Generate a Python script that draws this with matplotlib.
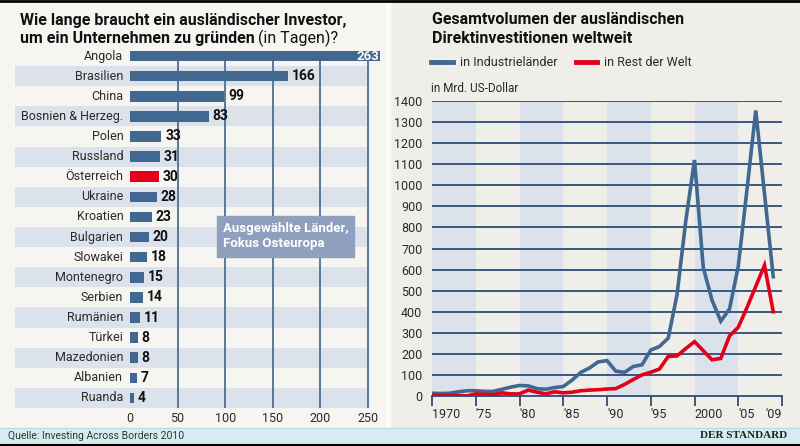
import matplotlib
matplotlib.use("Agg")
import matplotlib.pyplot as plt
from matplotlib.patches import Rectangle
from matplotlib.lines import Line2D
import numpy as np

plt.rcParams['font.family'] = ['Liberation Sans Narrow', 'Roboto', 'DejaVu Sans']

# left chart: days to start a company
countries = ['Angola', 'Brasilien', 'China', 'Bosnien & Herzeg.', 'Polen', 'Russland',
             'Österreich', 'Ukraine', 'Kroatien', 'Bulgarien', 'Slowakei', 'Montenegro',
             'Serbien', 'Rumänien', 'Türkei', 'Mazedonien', 'Albanien', 'Ruanda']
days = [263, 166, 99, 83, 33, 31, 30, 28, 23, 20, 18, 15, 14, 11, 8, 8, 7, 4]
highlight = 'Österreich'

# right chart: FDI inflows, bn USD
years = list(range(1970, 2010))
industrie = [13, 12, 13, 20, 25, 25, 22, 22, 32, 42, 50, 48, 35, 32, 40, 45, 75, 112, 133,
             162, 168, 118, 112, 140, 148, 218, 235, 275, 480, 830, 1120, 610, 455, 355,
             413, 615, 980, 1355, 960, 566]
rest = [3, 3, 3, 3, 0, 10, 8, 6, 15, 10, 10, 28, 18, 10, 20, 15, 18, 25, 28, 30, 33, 35,
        55, 78, 100, 113, 128, 188, 190, 225, 258, 215, 172, 178, 285, 326, 420, 520, 620, 400]
x_ticks = [1970, 1975, 1980, 1985, 1990, 1995, 2000, 2005, 2010]
x_labels = ['1970', "'75", "'80", "'85", "'90", "'95", '2000', "'05", "'09"]
bands = [(1970, 1975), (1980, 1985), (1990, 1995), (2000, 2005)]

W, H = 800, 446
BLUE = '#416891'
RED = '#e2001a'
STRIPE = '#dce2eb'
NAVY = '#2b4c78'
TXT = '#2a2a2a'

fig = plt.figure(figsize=(8, 4.46), dpi=100)
fig.patch.set_facecolor('#efeee9')


def rect(x0, y0, x1, y1, **kw):
    fig.patches.append(Rectangle((x0 / W, 1 - y1 / H), (x1 - x0) / W, (y1 - y0) / H,
                                 transform=fig.transFigure, **kw))


def figline(x0, x1, y0, y1, **kw):
    fig.lines.append(Line2D([x0 / W, x1 / W], [1 - y0 / H, 1 - y1 / H],
                            transform=fig.transFigure, **kw))


# backgrounds
rect(0, 0, 386, 428, color='#f6f5f2', zorder=-5)
rect(386, 0, 390, 428, color='#fbfbf9', zorder=-5)
rect(0, 428, 800, 444, color='#d5edf0', zorder=-5)
figline(0, 800, 1, 1, color='black', lw=2)
figline(0, 800, 444.5, 444.5, color='black', lw=1.5)
figline(0, 800, 428, 428, color='#b9dde2', lw=0.8)

# ---------- left bar chart ----------
axL = fig.add_axes([15 / W, 1 - 408 / H, 375 / W, 362 / H])
axL.set_facecolor('none')
n = len(countries)
ypos = np.arange(n)
axL.set_xlim(-120.8, 273.1)
axL.set_ylim(n - 0.5, -0.5)
for i in ypos:
    if i % 2 == 1:
        axL.barh(i, 249 + 120.8, left=-120.8, height=1.0, color=STRIPE, zorder=0)
axL.vlines([50, 100, 150, 200, 250], 0, n - 0.5, color='#4a6f96', lw=1.3, zorder=1)
colors = [RED if c == highlight else BLUE for c in countries]
axL.barh(ypos, days, height=0.52, color=colors, zorder=2)
for i, v in enumerate(days):
    if v > 250:
        axL.text(v - 1, i, str(v), ha='right', va='center', fontsize=9.5,
                 fontweight='bold', color='white', zorder=3)
    else:
        axL.text(v + 4, i, str(v), ha='left', va='center', fontsize=10,
                 fontweight='bold', color='#111111', zorder=3)
for i, c in enumerate(countries):
    axL.text(-7, i, c, ha='right', va='center', fontsize=9, color=TXT, zorder=3)
axL.set_yticks([])
axL.set_xticks([0, 50, 100, 150, 200, 250])
axL.tick_params(axis='x', length=0, pad=3, labelsize=9, labelcolor=TXT)
for s in axL.spines.values():
    s.set_visible(False)

rect(217, 216, 354, 257, color='#8ea0bd', zorder=2)
fig.text(223 / W, 1 - 236 / H, 'Ausgewählte Länder,\nFokus Osteuropa', color='white',
         fontsize=9.5, fontweight='bold', va='center', ha='left', linespacing=1.15, zorder=3)

# left title
fig.text(20 / W, 1 - 20 / H, 'Wie lange braucht ein ausländischer Investor,',
         fontsize=11.5, fontweight='bold', va='center', color='#111111')
t2 = fig.text(20 / W, 1 - 38 / H, 'um ein Unternehmen zu gründen',
              fontsize=11.5, fontweight='bold', va='center', color='#111111')
fig.canvas.draw()
bb = t2.get_window_extent(fig.canvas.get_renderer())
fig.text(bb.x1 / W + 0.004, 1 - 38 / H, '(in Tagen)?', fontsize=11.5,
         va='center', color='#111111')

# ---------- right line chart ----------
axR = fig.add_axes([432 / W, 1 - 396 / H, 350 / W, 295 / H])
axR.set_facecolor('none')
axR.set_xlim(1970, 2010)
axR.set_ylim(0, 1400)
for a, b in bands:
    axR.axvspan(a, b, color=STRIPE, lw=0, zorder=0)
for yv in range(100, 1500, 100):
    axR.axhline(yv, color=NAVY, lw=1.3, zorder=1)
axR.plot(years, industrie, color=BLUE, lw=2.6, zorder=3, solid_joinstyle='miter')
axR.plot(years, rest, color=RED, lw=2.6, zorder=4, solid_joinstyle='miter')
axR.set_yticks(range(0, 1500, 100))
axR.set_xticks(x_ticks, x_labels)
for lab in axR.get_xticklabels()[:-1]:
    lab.set_horizontalalignment('left')
axR.get_xticklabels()[-1].set_horizontalalignment('right')
axR.tick_params(axis='y', length=0, pad=7, labelsize=9, labelcolor=TXT)
axR.tick_params(axis='x', length=7, width=1.3, color=NAVY, direction='out', pad=2,
                labelsize=9, labelcolor=TXT)
for k, s in axR.spines.items():
    if k == 'bottom':
        s.set_color(NAVY)
        s.set_linewidth(1.3)
    else:
        s.set_visible(False)

# right title, legend, unit
fig.text(432 / W, 1 - 29 / H, 'Gesamtvolumen der ausländischen\nDirektinvestitionen weltweit',
         fontsize=11.5, fontweight='bold', va='center', color='#111111', linespacing=1.3)
figline(431, 453, 62, 62, color=BLUE, lw=3.5)
fig.text(460 / W, 1 - 62 / H, 'in Industrieländer', fontsize=9, va='center', color=TXT)
figline(576, 597, 62, 62, color=RED, lw=3.5)
fig.text(604 / W, 1 - 62 / H, 'in Rest der Welt', fontsize=9, va='center', color=TXT)
fig.text(431 / W, 1 - 89 / H, 'in Mrd. US-Dollar', fontsize=8.5, va='center', color=TXT)

# footer
fig.text(8 / W, 1 - 436 / H, 'Quelle: Investing Across Borders 2010', fontsize=7.5,
         va='center', color='#333333')
fig.text(787 / W, 1 - 436 / H, 'DER STANDARD', fontsize=8, va='center', ha='right',
         family=['Liberation Serif', 'DejaVu Serif'], fontweight='bold', color='#222222')

fig.savefig('out.png', dpi=100, facecolor=fig.get_facecolor())
